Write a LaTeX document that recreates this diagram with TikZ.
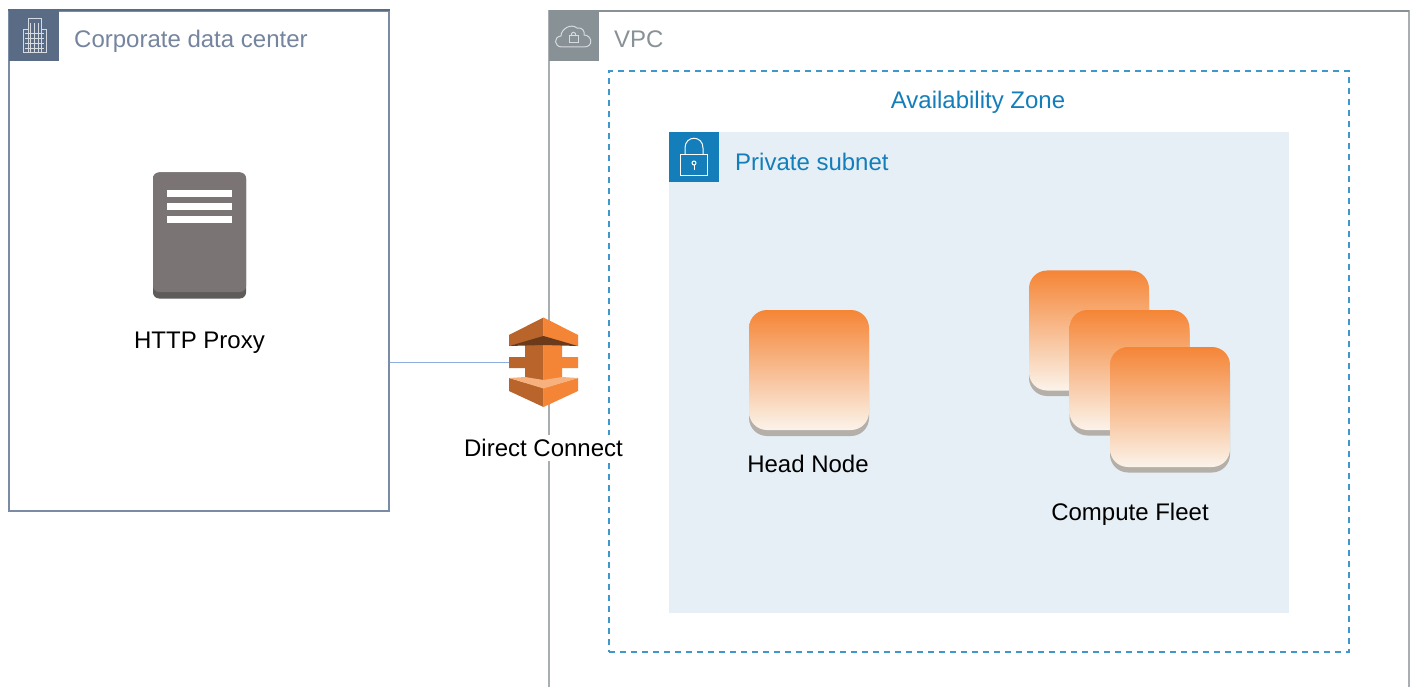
\documentclass[tikz,border=0pt]{standalone}
\usepackage{fontspec}
\setmainfont{Liberation Sans}
\usetikzlibrary{positioning}
\definecolor{corpblue}{HTML}{7C8BA5}
\definecolor{corpdark}{HTML}{5A6B86}
\definecolor{vpcgray}{HTML}{A9AEB1}
\definecolor{vpcdark}{HTML}{879196}
\definecolor{azblue}{HTML}{3F97CB}
\definecolor{subnetblue}{HTML}{147EBA}
\definecolor{subnetfill}{HTML}{E6EFF5}
\definecolor{srvgray}{HTML}{7A7574}
\definecolor{srvdark}{HTML}{5F5B5A}
\definecolor{linkblue}{HTML}{8FAEE0}
\definecolor{amzorange}{HTML}{F58536}
\definecolor{amzdark}{HTML}{B8642A}
\definecolor{amzdeep}{HTML}{6B3A1B}
\definecolor{amzlight}{HTML}{F6B17F}
\definecolor{instpale}{HTML}{FBF3EA}
\definecolor{instshade}{HTML}{B4B0A9}
\tikzset{
    lbl/.style={font=\fontsize{24}{28}\selectfont, text=black, inner sep=0pt},
    grouplbl/.style={font=\fontsize{24}{28}\selectfont, inner sep=0pt},
    instbox/.style={rounded corners=18pt, minimum width=120pt, minimum height=120pt, inner sep=0pt,
        top color=amzorange, bottom color=instpale, draw=none},
    instshadow/.style={rounded corners=18pt, minimum width=120pt, minimum height=120pt, inner sep=0pt,
        fill=instshade, draw=none},
    tagbox/.style={minimum width=50pt, minimum height=50pt, inner sep=0pt, draw=none},
    tagicon/.style={draw=white!75!corpdark, line width=1pt},
}
\begin{document}
\begin{tikzpicture}[x=1pt, y=-1pt]
\useasboundingbox (0,0) rectangle (1414,687);
\fill[white] (0,0) rectangle (1414,687);

% Corporate data center
\node[draw=corpblue, line width=1.8pt, minimum width=380pt, minimum height=500pt, inner sep=0pt] (corp) at (199,261) {};
\draw[corpdark, line width=1.8pt] (corp.north west) -- (corp.north east);
\node[tagbox, fill=corpdark] (corptag) at (34,36) {};
\node[grouplbl, right, text=corpblue!80!corpdark] (corplbl) at (74,41) {Corporate data center};
\draw[tagicon] (23,30) rectangle (46,53);
\draw[tagicon, fill=corpdark] (28,19) rectangle (41,53);
\foreach \i in {0,1,2,3} {
    \draw[tagicon, line width=0.7pt] (25,33+\i*5) -- (44,33+\i*5);
}
\foreach \j in {0,1,2} {
    \draw[tagicon, line width=0.7pt] (30.5+\j*4,23) -- (30.5+\j*4,53);
}

% Proxy server
\node[fill=srvdark, rounded corners=6pt, minimum width=93pt, minimum height=126pt, inner sep=0pt] (srv) at (199.5,235.5) {};
\fill[srvgray, rounded corners=6pt] (153,172.5) rectangle (246,292);
\foreach \i in {0,1,2} {
    \fill[white] (167,190+\i*13) rectangle (232,197+\i*13);
}
\node[lbl, below=33pt of srv] (srvlbl) {HTTP Proxy};

% VPC
\draw[vpcgray, line width=1.8pt] (549,687) -- (549,11) -- (1409,11) -- (1409,687);
\draw[vpcdark, line width=1.8pt] (549,11) -- (1409,11);
\node[tagbox, fill=vpcdark] (vpctag) at (574,36) {};
\node[grouplbl, right, text=vpcdark] (vpclbl) at (614,39) {VPC};
\draw[tagicon] (562,47) .. controls (554,47) and (553,37) .. (561,36) .. controls (561,29) and (571,23) .. (577,28)
    .. controls (582,27) and (585,31) .. (584,35) .. controls (592,35) and (594,47) .. (584,47) -- cycle;
\draw[tagicon] (569,36) rectangle (578,43);
\draw[tagicon] (571,36) .. controls (571,31) and (576,31) .. (576,36);

% Availability Zone
\node[draw=azblue, dash pattern=on 6pt off 5pt, line width=2pt, minimum width=740pt, minimum height=581pt, inner sep=0pt] (az) at (979,361.5) {};
\node[grouplbl, text=subnetblue] (azlbl) at (978,102) {Availability Zone};

% Private subnet
\node[fill=subnetfill, minimum width=620pt, minimum height=481pt, inner sep=0pt] (subnet) at (979,372.5) {};
\node[tagbox, fill=subnetblue] (subnettag) at (694,157) {};
\node[grouplbl, right, text=subnetblue] (subnetlbl) at (735,162) {Private subnet};
\draw[white, line width=1pt] (680.5,155) rectangle (707,176);
\draw[white, line width=1pt] (685,155) -- (685,148) .. controls (685,135) and (703,135) .. (703,148) -- (703,155);
\draw[white, line width=1pt] (694,163) circle (2pt);
\draw[white, line width=1pt] (694,165) -- (694,170);

% Head node
\node[instshadow] (headsh) at (809,376) {};
\node[instbox] (head) at (809,370) {};
\node[lbl] (headlbl) at (808,464) {Head Node};

% Compute fleet
\foreach \n/\x/\y in {a/1089/330.5,b/1129.5/370,c/1170/407} {
    \node[instshadow] (fleet\n sh) at (\x,\y+5.5) {};
    \node[instbox] (fleet\n) at (\x,\y) {};
}
\node[lbl] (fleetlbl) at (1130,514) {Compute Fleet};

% Direct Connect
\node[minimum width=69pt, minimum height=90pt, inner sep=0pt] (dc) at (543.5,362.5) {};
\draw[linkblue, line width=1.5pt] (corp.east |- dc.west) -- (dc.west);
\fill[amzdark] (509,335) -- (543.5,317.5) -- (543.5,337) -- (509,346) -- cycle;
\fill[amzorange] (578,335) -- (543.5,317.5) -- (543.5,337) -- (578,346) -- cycle;
\fill[amzdark] (525,342) -- (543.5,341) -- (543.5,381) -- (525,379) -- (525,368) -- (509,368) -- (509,357) -- (525,357) -- cycle;
\fill[amzorange] (562,342) -- (543.5,341) -- (543.5,381) -- (562,379) -- (562,368) -- (578,368) -- (578,357) -- (562,357) -- cycle;
\fill[amzdeep] (509,346) -- (543.5,336) -- (578,346) -- (543.5,345) -- cycle;
\fill[amzdark] (509,378) -- (543.5,388) -- (543.5,407) -- (509,391) -- cycle;
\fill[amzorange] (578,378) -- (543.5,388) -- (543.5,407) -- (578,391) -- cycle;
\fill[amzlight] (509,378) -- (525,377) -- (543.5,380) -- (562,377) -- (578,378) -- (543.5,388.5) -- cycle;
\node[lbl, fill=white, inner xsep=0pt, inner ysep=4pt] (dclbl) at (543.5,448) {Direct Connect};
\end{tikzpicture}
\end{document}
